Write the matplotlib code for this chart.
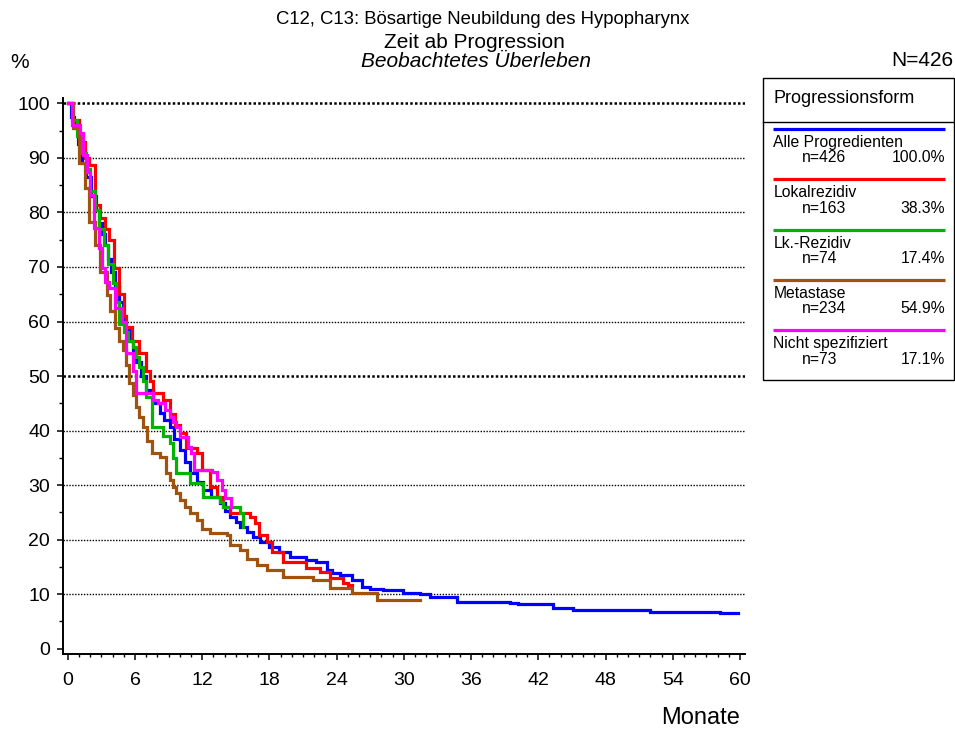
import matplotlib
matplotlib.use("Agg")
import matplotlib.pyplot as plt
from matplotlib.ticker import MultipleLocator
from matplotlib.patches import Rectangle

plt.rcParams['font.family'] = ['Liberation Sans', 'DejaVu Sans']

# ---------------- data ----------------
title_lines = ["C12, C13: Bösartige Neubildung des Hypopharynx",
               "Zeit ab Progression",
               "Beobachtetes Überleben"]
n_total = "N=426"
x_label = "Monate"
y_label = "%"
legend_title = "Progressionsform"

series_names = ["Alle Progredienten", "Lokalrezidiv", "Lk.-Rezidiv",
                "Metastase", "Nicht spezifiziert"]
series_n = ["n=426", "n=163", "n=74", "n=234", "n=73"]
series_pct = ["100.0%", "38.3%", "17.4%", "54.9%", "17.1%"]
series_colors = ["#0000FF", "#FF0000", "#00B400", "#A0520F", "#FF00FF"]

t_all = [0, 0.3, 0.6, 0.9, 1.25, 1.6, 2.1, 2.5, 2.8, 3.1, 3.3, 3.6, 3.9, 4.2,
         4.6, 4.9, 5.1, 5.5, 5.8, 6.1, 6.5, 7.0, 7.6, 8.2, 8.6, 9.1, 9.5, 10.0,
         10.5, 10.9, 11.5, 12.1, 12.8, 13.6, 14.0, 14.5, 15.0, 15.4, 16.0, 16.5,
         17.2, 18.0, 18.9, 19.8, 21.3, 22.2, 23.1, 23.6, 24.3, 25.4, 26.3, 27.0,
         28.1, 29.9, 31.4, 32.3, 34.7, 39.5, 40.2, 43.3, 45.1, 52.0, 58.2, 59.8]
s_all = [100, 97.5, 95.5, 92.5, 89, 86.5, 83, 80.5, 78, 76, 74, 71.5, 69, 66.5,
         63.6, 61, 58.8, 56.5, 54.2, 52.5, 50, 47.5, 45, 43.2, 42, 40.7, 38.5, 36.4,
         34.3, 32.2, 30.5, 29.1, 27.8, 26.7, 25.3, 24.1, 23.2, 22.3, 21.3, 20.5,
         19.5, 18.6, 17.7, 16.8, 16.2, 15.9, 14.4, 13.9, 13.5, 12.6, 11.3, 11.0,
         10.7, 10.2, 10.0, 9.4, 8.6, 8.3, 8.2, 7.4, 7.1, 6.7, 6.5, 6.5]

t_lok = [0, 0.5, 1.0, 1.5, 1.9, 2.4, 2.9, 3.3, 3.7, 4.1, 4.6, 5.0, 5.2, 5.7,
         6.4, 7.0, 7.3, 7.6, 8.5, 9.1, 9.6, 10.0, 10.6, 11.5, 12.0, 12.7, 13.3,
         13.9, 14.5, 16.3, 16.7, 17.1, 17.8, 18.2, 19.2, 21.3, 22.5, 23.4, 24.6,
         25.0, 25.4]
s_lok = [100, 97, 93, 90, 88.7, 81.4, 79, 77, 75, 69.8, 65, 61, 59, 56.5,
         54.2, 51, 49, 46.8, 45.6, 43.1, 41, 39.5, 36.8, 35.8, 32.8, 29.7, 27.8,
         26, 24.9, 24.1, 23, 20.8, 19.6, 17.7, 15.9, 14.8, 14.1, 12.9, 12.0,
         11.6, 11.6]

t_lk = [0, 0.4, 0.8, 1.2, 1.6, 2.0, 2.4, 2.8, 3.2, 3.6, 4.0, 4.3, 4.6, 5.0,
        5.4, 5.8, 6.1, 6.4, 6.7, 7.0, 7.5, 8.5, 9.1, 9.4, 9.7, 10.9, 12.1, 13.6,
        13.9, 15.4, 15.6]
s_lk = [100, 97, 94, 91, 88, 84, 80.5, 77, 74, 70.5, 67, 63.5, 59.5, 58,
        56.5, 55.3, 53.5, 51.7, 49, 46.1, 40.7, 39, 37.7, 35, 32.2, 30.4, 27.8, 26.8,
        26, 24.9, 22.3]

t_met = [0, 0.5, 1.0, 1.5, 1.9, 2.4, 2.9, 3.5, 3.8, 4.2, 4.6, 4.9, 5.2, 5.5,
         5.8, 6.1, 6.4, 6.7, 7.1, 7.5, 8.2, 8.8, 9.1, 9.4, 9.7, 10.0, 10.5, 10.9,
         11.5, 12.0, 12.7, 14.2, 14.5, 15.4, 16.0, 16.9, 17.8, 19.2, 21.9, 23.4,
         25.4, 27.6, 31.4]
s_met = [100, 95.5, 89, 84.5, 78.3, 74, 69, 64.8, 62, 58.8, 56.5, 54.8, 52, 48.7,
         46.5, 44.3, 42.5, 40.7, 38, 35.8, 35.2, 32.2, 31, 29.7, 28.5, 27.3, 26, 24.9,
         23.6, 22, 21.2, 20.8, 19, 18.1, 16.5, 15.3, 14.4, 13.1, 12.6, 11.1,
         10.2, 9.0, 9.0]

t_ns = [0, 0.4, 1.1, 1.4, 1.7, 2.0, 2.3, 2.8, 3.1, 3.3, 3.7, 4.2, 4.8, 5.2,
        5.8, 6.1, 7.6, 8.1, 8.7, 9.1, 9.4, 9.7, 10.0, 10.7, 11.0, 11.3, 12.9,
        13.3, 13.8, 14.0, 14.6]
s_ns = [100, 96, 94.6, 90.5, 87.4, 83.2, 77.1, 73.5, 69.8, 67.2, 66.1, 62.4, 59.9, 54.2,
        51, 46.8, 45.6, 45, 43.8, 42.5, 41.5, 40.7, 38.8, 37, 35.8, 32.8, 32.4,
        30.9, 29.1, 27.7, 26]

series_t = [t_all, t_lok, t_lk, t_met, t_ns]
series_s = [s_all, s_lok, s_lk, s_met, s_ns]

x_ticks = [0, 6, 12, 18, 24, 30, 36, 42, 48, 54, 60]
y_ticks = [0, 10, 20, 30, 40, 50, 60, 70, 80, 90, 100]

# ---------------- figure ----------------
W, H = 955, 731
fig = plt.figure(figsize=(W / 100, H / 100), dpi=100)
ax = fig.add_axes([62.7 / W, 1 - 654.3 / H, (745 - 62.7) / W, (654.3 - 98) / H])
ax.set_xlim(-0.45, 60.45)
ax.set_ylim(-1.05, 101.0)

for y in y_ticks[1:]:
    if y in (50, 100):
        ax.axhline(y, color='black', lw=1.8, ls=(0, (1, 0.9)), zorder=1)
    else:
        ax.axhline(y, color='black', lw=1.0, ls=(0, (1, 1.1)), zorder=1)

for t, s, c in zip(series_t, series_s, series_colors):
    ax.step(t, s, where='post', color=c, lw=2.3, zorder=3, solid_joinstyle='miter')

for side in ('top', 'right'):
    ax.spines[side].set_visible(False)
for side in ('left', 'bottom'):
    ax.spines[side].set_linewidth(1.4)

ax.set_xticks(x_ticks)
ax.set_yticks(y_ticks)
ax.xaxis.set_minor_locator(MultipleLocator(1))
ax.yaxis.set_minor_locator(MultipleLocator(5))
ax.tick_params(axis='x', which='major', length=4, width=1.1, labelsize=14, pad=9)
ax.tick_params(axis='x', which='minor', length=2.5, width=1.0)
ax.tick_params(axis='y', which='major', length=4, width=1.1, labelsize=14, pad=5)
ax.tick_params(axis='y', which='minor', length=3, width=1.0)

# ---------------- overlay (texts & legend) ----------------
ov = fig.add_axes([0, 0, 1, 1], zorder=5)
ov.set_xlim(0, W)
ov.set_ylim(H, 0)
ov.axis('off')

ov.text(483, 20, title_lines[0], fontsize=13.3, ha='center', va='center')
ov.text(474.5, 42.5, title_lines[1], fontsize=15, ha='center', va='center')
ov.text(476, 61.5, title_lines[2], fontsize=15, ha='center', va='center',
        style='italic')
ov.text(10, 62, y_label, fontsize=15, ha='left', va='center')
ov.text(953, 61, n_total, fontsize=15, ha='right', va='center')
ov.text(740, 718, x_label, fontsize=17, ha='right', va='center')

# legend box
ov.add_patch(Rectangle((762.7, 78.3), 954 - 762.7, 380 - 78.3, fill=False,
                       edgecolor='black', lw=1.0))
ov.plot([762.7, 954], [121.7, 121.7], color='black', lw=1.0)
ov.text(773.3, 98.5, legend_title, fontsize=13, ha='left', va='center')

y0 = 129
step = 50.3
for i, (name, n, pct, c) in enumerate(zip(series_names, series_n,
                                           series_pct, series_colors)):
    yl = y0 + i * step
    ov.plot([772.7, 945], [yl, yl], color=c, lw=2.3, solid_capstyle='butt')
    ov.text(773.3, yl + 13.5, name, fontsize=11.3, ha='left', va='center')
    ov.text(801.7, yl + 29, n, fontsize=11.3, ha='left', va='center')
    ov.text(945, yl + 29, pct, fontsize=11.3, ha='right', va='center')

fig.savefig("out.png", dpi=100)
